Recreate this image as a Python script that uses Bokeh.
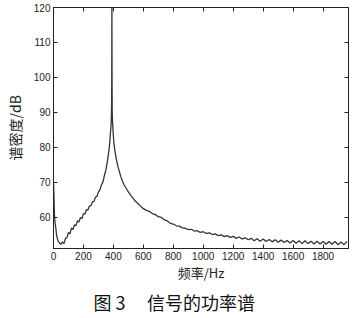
from bokeh.plotting import figure
from bokeh.models import Range1d, LinearAxis, FixedTicker, Title
from bokeh.embed import file_html
from bokeh.resources import INLINE

freq = [0, 3, 6, 10, 15, 20, 25, 30, 40, 50, 60, 70, 80, 90, 100, 110, 120, 130, 140, 150,
        160, 170, 180, 190, 200, 210, 220, 230, 240, 250, 260, 270, 280, 290, 300, 310, 320,
        330, 340, 350, 360, 370, 375, 380, 384, 386, 388, 389, 390, 391, 392, 394, 396, 400,
        405, 410, 420, 430, 440, 450, 460, 470, 480, 490, 500, 520, 540, 560, 580, 600, 620,
        640, 660, 680, 700, 720, 740, 760, 780, 800, 820, 840, 860, 880, 900, 920, 940, 960,
        980, 1000, 1020, 1040, 1060, 1080, 1100, 1120, 1140, 1160, 1180, 1200, 1220, 1240,
        1260, 1280, 1300, 1320, 1340, 1360, 1380, 1400, 1420, 1440, 1460, 1480, 1500, 1520,
        1540, 1560, 1580, 1600, 1620, 1640, 1660, 1680, 1700, 1720, 1740, 1760, 1780, 1800,
        1820, 1840, 1860, 1880, 1900, 1920, 1940, 1960]
psd_db = [70.0, 66.0, 61.0, 58.5, 57.0, 55.0, 54.0, 53.2, 52.6, 52.2, 52.9, 52.4, 53.9, 54.1,
          55.6, 55.2, 56.9, 56.4, 57.8, 57.5, 58.9, 58.6, 59.9, 59.6, 61.0, 60.9, 62.1, 62.0,
          63.2, 63.2, 64.4, 64.5, 65.7, 65.9, 67.2, 67.8, 69.2, 70.0, 71.9, 73.5, 76.0, 79.0,
          81.0, 84.0, 86.0, 88.0, 92.0, 100.0, 120.0, 100.0, 90.0, 87.5, 86.0, 83.0, 80.5,
          79.0, 76.5, 74.5, 73.0, 71.5, 70.3, 69.4, 68.6, 67.9, 67.2, 66.0, 64.9, 64.0, 63.2,
          62.4, 61.9, 61.6, 61.0, 60.7, 60.1, 59.9, 59.2, 58.9, 58.2, 58.0, 57.5, 57.4, 56.9,
          56.8, 56.4, 56.5, 56.0, 56.1, 55.6, 55.8, 55.3, 55.5, 55.0, 55.2, 54.7, 54.9, 54.4,
          54.7, 54.2, 54.5, 53.9, 54.3, 53.7, 54.1, 53.5, 53.9, 53.2, 53.8, 53.1, 53.7, 53.0,
          53.6, 52.9, 53.5, 52.8, 53.4, 52.7, 53.3, 52.6, 53.3, 52.5, 53.2, 52.4, 53.2, 52.4,
          53.1, 52.3, 53.1, 52.3, 53.0, 52.2, 53.0, 52.2, 53.0, 52.1, 52.9, 52.1, 53.0]

x_ticks = [0, 200, 400, 600, 800, 1000, 1200, 1400, 1600, 1800]
y_ticks = [60, 70, 80, 90, 100, 110, 120]
caption = "图\u00a03\u2003\u2009信号的功率谱"

p = figure(width=364, height=318, output_backend="svg", toolbar_location=None,
           x_range=Range1d(0, 1970), y_range=Range1d(51, 120),
           min_border_left=53, min_border_right=16, min_border_top=7, min_border_bottom=70)
p.grid.visible = False
p.outline_line_color = "#222222"
p.outline_line_width = 1
p.background_fill_color = "white"
p.border_fill_color = "white"

p.line(freq, psd_db, line_color="#333333", line_width=1.3)

tick_font = "Liberation Sans"
for ax in (p.xaxis[0], p.yaxis[0]):
    ax.major_tick_in = 4
    ax.major_tick_out = 0
    ax.minor_tick_line_color = None
    ax.axis_line_color = "#222222"
    ax.major_tick_line_color = "#222222"
    ax.major_label_text_font = tick_font
    ax.major_label_text_font_size = "10px"
    ax.major_label_text_color = "#222222"
    ax.major_label_standoff = 3

p.xaxis[0].ticker = FixedTicker(ticks=x_ticks)
p.yaxis[0].ticker = FixedTicker(ticks=y_ticks)
p.xaxis[0].axis_label = "频率/Hz"
p.yaxis[0].axis_label = "谱密度/dB"
for ax in (p.xaxis[0], p.yaxis[0]):
    ax.axis_label_text_font = "Noto Sans CJK SC"
    ax.axis_label_text_font_style = "normal"
    ax.axis_label_text_color = "#222222"
p.xaxis[0].axis_label_text_font_size = "13px"
p.yaxis[0].axis_label_text_font_size = "14px"
p.xaxis[0].axis_label_standoff = 0
p.yaxis[0].axis_label_standoff = 6

top = LinearAxis(ticker=FixedTicker(ticks=x_ticks),
                 major_label_overrides={t: "" for t in x_ticks},
                 major_tick_in=4, major_tick_out=0, minor_tick_line_color=None,
                 axis_line_color="#222222", major_tick_line_color="#222222")
right = LinearAxis(ticker=FixedTicker(ticks=y_ticks),
                   major_label_overrides={t: "" for t in y_ticks},
                   major_tick_in=4, major_tick_out=0, minor_tick_line_color=None,
                   axis_line_color="#222222", major_tick_line_color="#222222")
p.add_layout(top, "above")
p.add_layout(right, "right")

cap = Title(text=caption, align="left", offset=40, vertical_align="bottom",
            text_font="Noto Sans CJK SC",
            text_font_size="18px", text_font_style="normal", text_color="#111111",
            standoff=4)
p.add_layout(cap, "below")

open("out.html", "w").write(file_html(p, INLINE))
